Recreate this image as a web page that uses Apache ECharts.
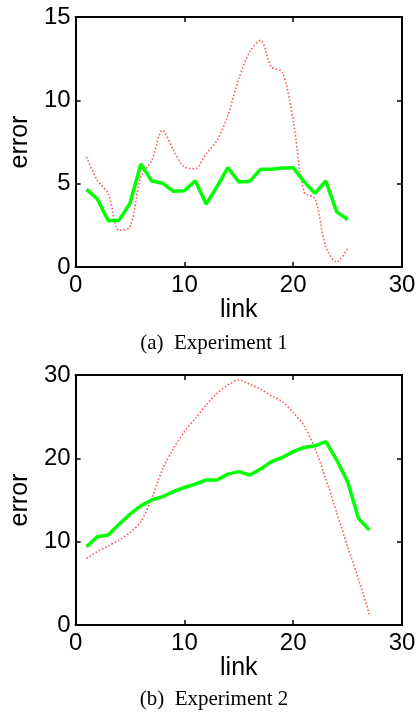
<!DOCTYPE html>
<html>
<head>
<meta charset="utf-8">
<script src="https://cdn.jsdelivr.net/npm/echarts@6/dist/echarts.min.js"></script>
<style>
  html, body { margin: 0; padding: 0; background: #fff; }
  #chart { width: 419px; height: 712px; }
</style>
</head>
<body>
<div id="chart"></div>
<script>
// experiment 1: links 1..25
const links1 = [1, 2, 3, 4, 5, 6, 7, 8, 9, 10, 11, 12, 13, 14, 15, 16, 17, 18, 19, 20, 21, 22, 23, 24, 25]
const greenExp1 = [4.66, 4.08, 2.77, 2.81, 3.82, 6.18, 5.16, 5.02, 4.54, 4.58, 5.18, 3.78, 4.82, 5.96, 5.1, 5.14, 5.86, 5.86, 5.94, 5.96, 5.12, 4.42, 5.16, 3.31, 2.85]
const redExp1 = [6.6, 5.2, 4.4, 2.2, 2.4, 5.4, 6.4, 8.2, 7.0, 6.0, 5.9, 6.8, 7.6, 9.1, 11.3, 12.9, 13.6, 12.0, 11.7, 8.8, 4.5, 4.1, 1.2, 0.3, 1.1]

// experiment 2: links 1..27
const links2 = [1, 2, 3, 4, 5, 6, 7, 8, 9, 10, 11, 12, 13, 14, 15, 16, 17, 18, 19, 20, 21, 22, 23, 24, 25, 26, 27]
const greenExp2 = [9.4, 10.6, 10.8, 12.1, 13.3, 14.3, 15.0, 15.4, 16.0, 16.5, 16.9, 17.4, 17.4, 18.1, 18.4, 18.0, 18.7, 19.6, 20.1, 20.8, 21.3, 21.5, 22.0, 19.8, 17.2, 12.8, 11.4]
const redExp2 = [8.0, 8.8, 9.5, 10.2, 11.1, 12.4, 15.2, 18.7, 21.2, 23.2, 24.8, 26.4, 27.8, 28.8, 29.4, 28.9, 28.3, 27.5, 26.8, 25.5, 23.9, 21.2, 17.5, 13.5, 9.4, 5.5, 1.3]

const xTicks = { min: 0, max: 30, interval: 10 }
const yTicksExp1 = { min: 0, max: 15, interval: 5 }
const yTicksExp2 = { min: 0, max: 30, interval: 10 }

const captions = ['(a)  Experiment 1', '(b)  Experiment 2']

const FONT = 'Liberation Sans'
const SERIF = 'Liberation Serif'

const pairs = (xs, ys) => xs.map((x, i) => [x, ys[i]])

// black box round each plot, ticks pointing in
const frameLine = { show: true, onZero: false, lineStyle: { color: '#000', width: 2 } }
const frameTick = { show: true, inside: true, length: 5, lineStyle: { color: '#000', width: 1.5 } }
const tickLabel = { color: '#000', fontFamily: FONT, fontSize: 24 }

const makeX = (grid, ticks) => ([
  {
    type: 'value', gridIndex: grid, position: 'bottom', ...ticks,
    axisLine: frameLine, axisTick: frameTick, splitLine: { show: false },
    axisLabel: { ...tickLabel, margin: 6, showMinLabel: true, showMaxLabel: true },
    name: 'link', nameLocation: 'middle', nameGap: 29,
    nameTextStyle: { color: '#000', fontFamily: FONT, fontSize: 25 },
  },
  {
    type: 'value', gridIndex: grid, position: 'top', ...ticks,
    axisLine: frameLine, axisTick: frameTick, splitLine: { show: false },
    axisLabel: { show: false },
  },
])

const makeY = (grid, ticks) => ([
  {
    type: 'value', gridIndex: grid, position: 'left', ...ticks,
    axisLine: frameLine, axisTick: frameTick, splitLine: { show: false },
    axisLabel: { ...tickLabel, margin: 5 },
    name: 'error', nameLocation: 'middle', nameGap: 40, nameRotate: 90,
    nameTextStyle: { color: '#000', fontFamily: FONT, fontSize: 25 },
  },
  {
    type: 'value', gridIndex: grid, position: 'right', ...ticks,
    axisLine: frameLine, axisTick: frameTick, splitLine: { show: false },
    axisLabel: { show: false },
  },
])

const greenLine = (xi, yi, data) => ({
  type: 'line', xAxisIndex: xi, yAxisIndex: yi, data,
  showSymbol: false, silent: true, z: 3,
  lineStyle: { color: '#00ff00', width: 3.5 },
})

const redLine = (xi, yi, data) => ({
  type: 'line', xAxisIndex: xi, yAxisIndex: yi, data,
  showSymbol: false, silent: true, smooth: 0.3, z: 2,
  lineStyle: { color: '#ff5c5c', width: 1.6, type: [1.6, 2] },
})

const chart = echarts.init(document.getElementById('chart'), null, { renderer: 'canvas' })

chart.setOption({
  animation: false,
  backgroundColor: '#fff',
  grid: [
    { left: 70, top: 17, width: 332, height: 250 },
    { left: 70, top: 375, width: 332, height: 250 },
  ],
  xAxis: [...makeX(0, xTicks), ...makeX(1, xTicks)],
  yAxis: [...makeY(0, yTicksExp1), ...makeY(1, yTicksExp2)],
  series: [
    redLine(0, 0, pairs(links1, redExp1)),
    greenLine(0, 0, pairs(links1, greenExp1)),
    redLine(2, 2, pairs(links2, redExp2)),
    greenLine(2, 2, pairs(links2, greenExp2)),
  ],
  graphic: [
    {
      type: 'text', x: 214, y: 343,
      style: { text: captions[0], fill: '#000', font: `21px "${SERIF}"`, textAlign: 'center', textVerticalAlign: 'middle' },
    },
    {
      type: 'text', x: 214, y: 699,
      style: { text: captions[1], fill: '#000', font: `21px "${SERIF}"`, textAlign: 'center', textVerticalAlign: 'middle' },
    },
  ],
})
</script>
</body>
</html>
